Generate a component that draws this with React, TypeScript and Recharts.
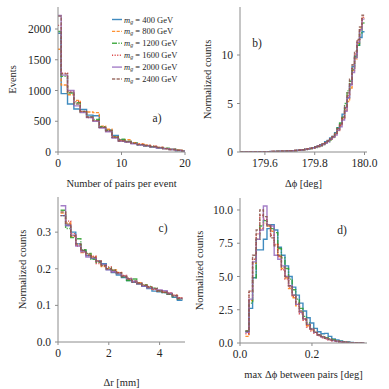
import React from 'react';
import { LineChart, Line, XAxis, YAxis, Label } from 'recharts';

const FONT = "'Liberation Serif', 'DejaVu Serif', serif";
const AXIS = '#8c8c8c';
const TEXT = '#262626';

const MASSES = [400, 800, 1200, 1600, 2000, 2400];
const KEYS = ['m400', 'm800', 'm1200', 'm1600', 'm2000', 'm2400'];
const COLORS = ['#1f77b4', '#ff7f0e', '#2ca02c', '#d62728', '#9467bd', '#8c564b'];
const DASHES = ['', '3.2 1.4', '5 1.4 1.2 1.4', '1.1 1.5', '', '3.2 1.4'];

// a) number of pairs per event
const pairsEdges = [0, 0.5, 1.5, 2.5, 3.5, 4.5, 5.5, 6.5, 7.5, 8.5, 9.5, 10.5, 11.5, 12.5, 13.5, 14.5, 15.5, 16.5, 17.5, 18.5, 19.5, 20];
const pairs400 = [1930, 950, 780, 700, 690, 600, 590, 400, 360, 270, 200, 170, 145, 120, 100, 85, 70, 55, 40, 25, 15];
const pairs800 = [1670, 1090, 930, 840, 650, 650, 640, 420, 370, 250, 190, 200, 150, 130, 110, 90, 75, 55, 40, 30, 15];
const pairs1200 = [1960, 1230, 960, 800, 650, 570, 530, 410, 350, 240, 210, 170, 145, 115, 100, 85, 70, 60, 45, 25, 15];
const pairs1600 = [2060, 1280, 990, 820, 660, 560, 510, 400, 340, 235, 185, 165, 140, 125, 105, 95, 75, 55, 40, 28, 18];
const pairs2000 = [2220, 1250, 1000, 750, 640, 560, 500, 390, 330, 225, 175, 160, 135, 115, 100, 80, 65, 55, 40, 22, 12];
const pairs2400 = [2210, 1270, 970, 780, 660, 570, 510, 400, 345, 245, 180, 165, 140, 120, 105, 90, 72, 58, 42, 28, 15];

// b) delta phi
const dphiEdges = [
  179.5, 179.51, 179.52, 179.53, 179.54, 179.55, 179.56, 179.57, 179.58, 179.59,
  179.6, 179.61, 179.62, 179.63, 179.64, 179.65, 179.66, 179.67, 179.68, 179.69,
  179.7, 179.71, 179.72, 179.73, 179.74, 179.75, 179.76, 179.77, 179.78, 179.79,
  179.8, 179.81, 179.82, 179.83, 179.84, 179.85, 179.86, 179.87, 179.88, 179.89,
  179.9, 179.91, 179.92, 179.93, 179.94, 179.95, 179.96, 179.97, 179.98, 179.99, 180.0,
];
const dphi400 = [
  0.01, 0.01, 0.01, 0.02, 0.02, 0.02, 0.02, 0.03, 0.03, 0.03,
  0.04, 0.04, 0.05, 0.05, 0.06, 0.07, 0.07, 0.08, 0.09, 0.11,
  0.12, 0.14, 0.16, 0.18, 0.21, 0.24, 0.28, 0.33, 0.38, 0.45,
  0.55, 0.62, 0.75, 0.85, 1.05, 1.2, 1.45, 1.6, 2.0, 2.5,
  2.9, 3.9, 4.6, 5.6, 7.0, 8.8, 9.9, 11.0, 11.8, 12.4,
];
const dphi800 = [
  0.01, 0.01, 0.01, 0.01, 0.02, 0.02, 0.02, 0.02, 0.03, 0.03,
  0.03, 0.04, 0.04, 0.05, 0.05, 0.06, 0.07, 0.08, 0.09, 0.1,
  0.12, 0.13, 0.15, 0.17, 0.2, 0.23, 0.27, 0.31, 0.36, 0.42,
  0.48, 0.57, 0.66, 0.8, 0.92, 1.1, 1.28, 1.5, 1.8, 2.2,
  2.7, 3.4, 4.3, 5.2, 6.6, 8.4, 9.6, 11.2, 12.8, 13.8,
];
const dphi1200 = [
  0.01, 0.01, 0.01, 0.01, 0.01, 0.02, 0.02, 0.02, 0.02, 0.03,
  0.03, 0.03, 0.04, 0.04, 0.05, 0.05, 0.06, 0.07, 0.08, 0.09,
  0.11, 0.12, 0.14, 0.17, 0.19, 0.22, 0.26, 0.3, 0.35, 0.41,
  0.47, 0.55, 0.65, 0.77, 0.9, 1.05, 1.25, 1.55, 1.95, 2.5,
  3.0, 3.6, 5.0, 6.3, 7.3, 8.5, 9.8, 11.0, 12.3, 13.3,
];
const dphi1600 = [
  0.01, 0.01, 0.01, 0.02, 0.02, 0.02, 0.02, 0.03, 0.03, 0.03,
  0.04, 0.04, 0.05, 0.05, 0.06, 0.06, 0.07, 0.08, 0.09, 0.1,
  0.12, 0.13, 0.15, 0.18, 0.2, 0.23, 0.27, 0.32, 0.37, 0.43,
  0.5, 0.6, 0.7, 0.82, 0.97, 1.12, 1.32, 1.58, 1.9, 2.35,
  2.8, 3.5, 4.5, 5.8, 7.0, 8.6, 10.1, 11.5, 12.6, 13.9,
];
const dphi2000 = [
  0.01, 0.01, 0.01, 0.01, 0.02, 0.02, 0.02, 0.02, 0.03, 0.03,
  0.03, 0.04, 0.04, 0.05, 0.05, 0.06, 0.07, 0.08, 0.09, 0.1,
  0.11, 0.13, 0.15, 0.17, 0.2, 0.23, 0.26, 0.3, 0.35, 0.41,
  0.48, 0.56, 0.65, 0.78, 0.9, 1.08, 1.3, 1.52, 1.75, 2.25,
  2.6, 3.3, 4.2, 5.6, 6.9, 8.2, 9.7, 11.3, 12.6, 13.7,
];
const dphi2400 = [
  0.01, 0.01, 0.01, 0.01, 0.02, 0.02, 0.02, 0.03, 0.03, 0.03,
  0.04, 0.04, 0.04, 0.05, 0.06, 0.06, 0.07, 0.08, 0.09, 0.11,
  0.12, 0.14, 0.16, 0.18, 0.21, 0.24, 0.28, 0.32, 0.37, 0.44,
  0.51, 0.6, 0.69, 0.82, 0.96, 1.13, 1.34, 1.6, 1.92, 2.4,
  2.9, 3.6, 4.7, 6.1, 7.5, 9.0, 10.4, 11.6, 12.9, 14.1,
];

// c) delta r
const drEdges = [0.1, 0.3, 0.5, 0.7, 0.9, 1.1, 1.3, 1.5, 1.7, 1.9, 2.1, 2.3, 2.5, 2.7, 2.9, 3.1, 3.3, 3.5, 3.7, 3.9, 4.1, 4.3, 4.5, 4.7, 4.9];
const dr400 = [0.345, 0.318, 0.3, 0.268, 0.25, 0.236, 0.228, 0.222, 0.214, 0.198, 0.19, 0.183, 0.176, 0.168, 0.163, 0.16, 0.152, 0.146, 0.139, 0.137, 0.135, 0.13, 0.122, 0.114];
const dr800 = [0.352, 0.325, 0.288, 0.265, 0.244, 0.24, 0.232, 0.222, 0.206, 0.2, 0.197, 0.19, 0.181, 0.171, 0.165, 0.162, 0.156, 0.149, 0.144, 0.141, 0.137, 0.133, 0.127, 0.12];
const dr1200 = [0.36, 0.31, 0.285, 0.282, 0.252, 0.242, 0.226, 0.218, 0.21, 0.203, 0.196, 0.187, 0.178, 0.168, 0.172, 0.158, 0.156, 0.152, 0.147, 0.14, 0.135, 0.13, 0.124, 0.117];
const dr1600 = [0.345, 0.33, 0.296, 0.262, 0.246, 0.236, 0.234, 0.214, 0.208, 0.205, 0.192, 0.189, 0.182, 0.174, 0.164, 0.16, 0.154, 0.151, 0.143, 0.139, 0.136, 0.134, 0.128, 0.121];
const dr2000 = [0.372, 0.318, 0.292, 0.262, 0.246, 0.232, 0.229, 0.221, 0.212, 0.197, 0.192, 0.186, 0.18, 0.173, 0.166, 0.158, 0.153, 0.148, 0.145, 0.142, 0.14, 0.133, 0.126, 0.119];
const dr2400 = [0.355, 0.322, 0.29, 0.268, 0.25, 0.24, 0.231, 0.219, 0.209, 0.2, 0.196, 0.189, 0.179, 0.172, 0.167, 0.161, 0.155, 0.15, 0.146, 0.14, 0.136, 0.131, 0.127, 0.119];

// d) max delta phi between pairs
const maxEdges = [
  0.015, 0.025, 0.035, 0.045, 0.055, 0.065, 0.075, 0.085, 0.095, 0.105,
  0.115, 0.125, 0.135, 0.145, 0.155, 0.165, 0.175, 0.185, 0.195, 0.205,
  0.215, 0.225, 0.235, 0.245, 0.255, 0.265, 0.275, 0.285, 0.295, 0.305,
  0.315, 0.325, 0.335, 0.345,
];
const max400 = [0.85, 2.6, 4.9, 7.0, 7.0, 7.8, 8.6, 8.9, 8.5, 7.2, 6.6, 5.8, 5.0, 4.2, 3.6, 3.0, 2.4, 1.9, 1.5, 1.1, 0.85, 0.7, 0.72, 0.5, 0.3, 0.22, 0.15, 0.1, 0.07, 0.05, 0.03, 0.02, 0.01];
const max800 = [0.5, 3.2, 6.0, 7.8, 8.6, 9.0, 8.8, 8.4, 7.4, 6.5, 5.6, 4.9, 4.1, 3.4, 2.8, 2.3, 1.8, 1.3, 1.0, 0.8, 0.6, 0.45, 0.35, 0.26, 0.2, 0.14, 0.1, 0.07, 0.05, 0.03, 0.02, 0.01, 0.005];
const max1200 = [0.9, 3.0, 4.9, 7.8, 8.8, 9.2, 8.9, 8.6, 8.3, 7.1, 6.4, 5.6, 4.8, 4.0, 3.3, 2.6, 2.0, 1.5, 1.1, 0.8, 0.6, 0.5, 0.4, 0.3, 0.22, 0.16, 0.11, 0.07, 0.05, 0.03, 0.02, 0.01, 0.005];
const max1600 = [0.7, 3.9, 6.3, 8.2, 9.6, 9.3, 8.9, 8.1, 7.4, 6.5, 5.5, 4.8, 4.2, 3.5, 2.9, 2.2, 1.7, 1.2, 0.9, 0.75, 0.55, 0.4, 0.3, 0.22, 0.16, 0.1, 0.07, 0.05, 0.03, 0.02, 0.012, 0.008, 0.004];
const max2000 = [0.8, 3.3, 6.1, 7.8, 8.5, 10.3, 8.9, 8.8, 6.6, 6.3, 5.8, 5.0, 4.3, 3.6, 2.9, 2.3, 1.8, 1.4, 1.05, 0.8, 0.6, 0.45, 0.35, 0.25, 0.18, 0.13, 0.09, 0.06, 0.04, 0.03, 0.02, 0.01, 0.005];
const max2400 = [0.9, 3.9, 6.6, 8.5, 10.0, 9.5, 8.8, 7.9, 7.3, 6.6, 5.7, 5.0, 4.3, 3.6, 3.0, 2.4, 1.8, 1.4, 1.05, 0.8, 0.62, 0.48, 0.36, 0.27, 0.2, 0.14, 0.1, 0.065, 0.04, 0.03, 0.015, 0.01, 0.005];

// one row per bin's left edge, plus the last right edge so the final bin closes
function toSteps(edges: number[], series: number[][]) {
  const rows: Record<string, number>[] = [];
  const n = edges.length - 1;
  for (let j = 0; j <= n; j++) {
    const r: Record<string, number> = { x: edges[j] };
    series.forEach((s, i) => { r[KEYS[i]] = s[Math.min(j, n - 1)]; });
    rows.push(r);
  }
  return rows;
}

const pairsRows = toSteps(pairsEdges, [pairs400, pairs800, pairs1200, pairs1600, pairs2000, pairs2400]);
const dphiRows = toSteps(dphiEdges, [dphi400, dphi800, dphi1200, dphi1600, dphi2000, dphi2400]);
const drRows = toSteps(drEdges, [dr400, dr800, dr1200, dr1600, dr2000, dr2400]);
const maxRows = toSteps(maxEdges, [max400, max800, max1200, max1600, max2000, max2400]);

const fix1 = (v: number) => v.toFixed(1);

function Panel(p: any) {
  const margin = { top: p.plotTop, right: p.width - p.plotRight, bottom: 0, left: 0 };
  const cx = (p.plotLeft + p.plotRight) / 2;
  const cy = (p.plotTop + p.plotBottom) / 2;
  const tick = { fill: TEXT, fontSize: 11.5, fontFamily: FONT, style: { fontFamily: FONT } };
  return (
    <div style={{ position: 'absolute', left: p.left, top: p.top }}>
      <LineChart width={p.width} height={p.height} data={p.rows} margin={margin} style={{ fontFamily: FONT }}>
        <XAxis
          dataKey="x" type="number" domain={p.xDomain} ticks={p.xTicks} tickFormatter={p.xFmt}
          allowDataOverflow interval={0} height={p.height - p.plotBottom}
          stroke={AXIS} tickSize={3} tickMargin={4} tick={tick}
          label={<Label content={() => (
            <text x={cx} y={p.xLabelY} textAnchor="middle" dominantBaseline="central" fill={TEXT} fontSize={10.5} style={{ fontFamily: FONT }}>{p.xLabel}</text>
          )} />}
        />
        <XAxis xAxisId="top" orientation="top" type="number" domain={p.xDomain} allowDataOverflow height={0} tick={false} tickLine={false} stroke={AXIS} />
        <YAxis
          type="number" domain={p.yDomain} ticks={p.yTicks} tickFormatter={p.yFmt}
          allowDataOverflow interval={0} width={p.plotLeft}
          stroke={AXIS} tickSize={3} tickMargin={4} tick={tick}
          label={<Label content={() => (
            <text x={p.yLabelX} y={cy} transform={`rotate(-90 ${p.yLabelX} ${cy})`} textAnchor="middle" dominantBaseline="central" fill={TEXT} fontSize={10.5} style={{ fontFamily: FONT }}>{p.yLabel}</text>
          )} />}
        />
        <YAxis yAxisId="right" orientation="right" type="number" domain={p.yDomain} allowDataOverflow width={0} tick={false} tickLine={false} stroke={AXIS} />
        {KEYS.map((k, i) => (
          <Line
            key={k} dataKey={k} type="stepAfter" stroke={COLORS[i]} strokeWidth={1.4}
            strokeDasharray={DASHES[i] || undefined} strokeOpacity={0.85}
            dot={false} activeDot={false} isAnimationActive={false}
          />
        ))}
      </LineChart>
    </div>
  );
}

function Overlay() {
  const t = { fill: TEXT, style: { fontFamily: FONT } };
  return (
    <svg width={389} height={389} style={{ position: 'absolute', left: 0, top: 0, pointerEvents: 'none' }}>
      {MASSES.map((m, i) => {
        const y = 19.5 + i * 11.9;
        return (
          <g key={m}>
            <line x1={112} x2={122} y1={y} y2={y} stroke={COLORS[i]} strokeWidth={1.4} strokeOpacity={0.85} strokeDasharray={DASHES[i] || undefined} />
            <text x={124} y={y} dominantBaseline="central" fontSize={8.5} {...t}>
              <tspan fontStyle="italic">m</tspan>
              <tspan fontStyle="italic" fontSize={6} dy={2}>g</tspan>
              <tspan dy={-2}>{` = ${m} GeV`}</tspan>
            </text>
          </g>
        );
      })}
      <text x={157} y={118} textAnchor="middle" dominantBaseline="central" fontSize={11.5} {...t}>a)</text>
      <text x={257} y={43} textAnchor="middle" dominantBaseline="central" fontSize={11.5} {...t}>b)</text>
      <text x={163} y={228} textAnchor="middle" dominantBaseline="central" fontSize={11.5} {...t}>c)</text>
      <text x={342} y={230} textAnchor="middle" dominantBaseline="central" fontSize={11.5} {...t}>d)</text>
    </svg>
  );
}

export default function App() {
  return (
    <div style={{ position: 'absolute', left: 0, top: 0, width: 389, height: 389, background: '#fff', overflow: 'hidden', fontFamily: FONT }}>
      <Panel
        left={0} top={0} width={195} height={195} plotLeft={58} plotTop={7} plotRight={185} plotBottom={152}
        rows={pairsRows} xDomain={[0, 20]} yDomain={[0, 2358]} xTicks={[0, 10, 20]} yTicks={[0, 500, 1000, 1500, 2000]}
        xLabel="Number of pairs per event" yLabel="Events" xLabelY={183.5} yLabelX={12}
      />
      <Panel
        left={195} top={0} width={194} height={195} plotLeft={45} plotTop={7} plotRight={172} plotBottom={152}
        rows={dphiRows} xDomain={[179.5, 180.01]} yDomain={[0, 14.95]} xTicks={[179.6, 179.8, 180.0]} yTicks={[0, 5, 10]}
        xFmt={fix1} xLabel="Δϕ [deg]" yLabel="Normalized counts" xLabelY={183.5} yLabelX={12}
      />
      <Panel
        left={0} top={190} width={195} height={199} plotLeft={58} plotTop={7} plotRight={185} plotBottom={152}
        rows={drRows} xDomain={[0, 5]} yDomain={[0, 0.396]} xTicks={[0, 2, 4]} yTicks={[0, 0.1, 0.2, 0.3]}
        yFmt={fix1} xLabel="Δr [mm]" yLabel="Normalized counts" xLabelY={192} yLabelX={22}
      />
      <Panel
        left={195} top={190} width={194} height={199} plotLeft={45} plotTop={8} plotRight={172} plotBottom={153}
        rows={maxRows} xDomain={[0, 0.353]} yDomain={[0, 10.9]} xTicks={[0, 0.2]} yTicks={[0, 2.5, 5, 7.5, 10]}
        xFmt={fix1} yFmt={fix1} xLabel="max Δϕ between pairs [deg]" yLabel="Normalized counts" xLabelY={184} yLabelX={4}
      />
      <Overlay />
    </div>
  );
}
